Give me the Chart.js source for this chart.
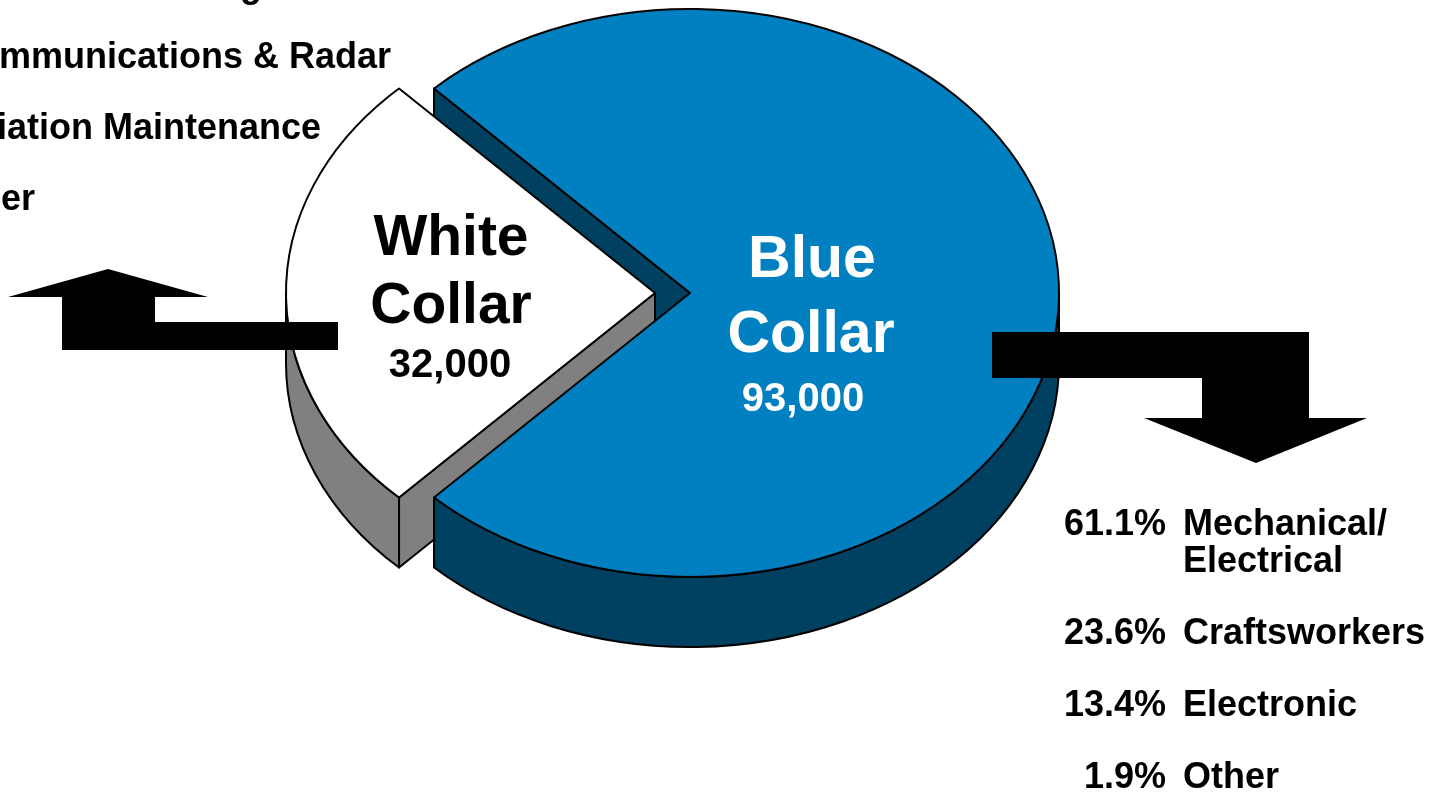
<!DOCTYPE html>
<html>
<head>
<meta charset="utf-8">
<style>
  html, body { margin: 0; padding: 0; background: #ffffff; }
  canvas { display: block; }
</style>
<script src="https://cdn.jsdelivr.net/npm/chart.js@4.4.1/dist/chart.umd.min.js"></script>
</head>
<body>
<canvas id="workforce" width="1441" height="792"></canvas>
<script>
// workforce split
const categories = ['White Collar', 'Blue Collar'];
const workers = [32000, 93000];

// breakdown lists on each side
const whiteGroups = ['Contracting', 'Communications & Radar', 'Aviation Maintenance', 'Other'];
const blueShares = [61.1, 23.6, 13.4, 1.9];
const blueGroups = ['Mechanical/\nElectrical', 'Craftsworkers', 'Electronic', 'Other'];

const TILT = 284 / 369;   // squash of the pie top
const DEPTH = 70;         // thickness of the pie
const sideColors = ['#808080', '#004060'];
const FONT = '"Liberation Sans", Arial, Helvetica, sans-serif';

// rotate so the white slice sits centred on the left
const whiteShare = workers[0] / workers.reduce((a, b) => a + b, 0);
const rotation = 270 - 180 * whiteShare;

function slicePath(ctx, s) {
    ctx.beginPath();
    ctx.moveTo(s.cx, s.cy);
    ctx.ellipse(s.cx, s.cy, s.rx, s.ry, 0, s.start, s.end, false);
    ctx.closePath();
}

function edgeFace(ctx, s, a) {
    const px = s.cx + s.rx * Math.cos(a), py = s.cy + s.ry * Math.sin(a);
    ctx.beginPath();
    ctx.moveTo(s.cx, s.cy);
    ctx.lineTo(px, py);
    ctx.lineTo(px, py + DEPTH);
    ctx.lineTo(s.cx, s.cy + DEPTH);
    ctx.closePath();
    ctx.fillStyle = s.side;
    ctx.fill();
    ctx.stroke();
}

function rimFaces(ctx, s) {
    // only the front half (sin > 0) of the rim can be seen
    for (let n = -1; n <= 2; n++) {
        const lo = Math.max(s.start, n * 2 * Math.PI);
        const hi = Math.min(s.end, n * 2 * Math.PI + Math.PI);
        if (hi <= lo) continue;
        ctx.beginPath();
        ctx.ellipse(s.cx, s.cy, s.rx, s.ry, 0, lo, hi, false);
        ctx.lineTo(s.cx + s.rx * Math.cos(hi), s.cy + s.ry * Math.sin(hi) + DEPTH);
        ctx.ellipse(s.cx, s.cy + DEPTH, s.rx, s.ry, 0, hi, lo, true);
        ctx.closePath();
        ctx.fillStyle = s.side;
        ctx.fill();
        ctx.stroke();
    }
}

const pie3d = {
    id: 'pie3d',
    beforeDatasetsDraw(chart) {
        const ctx = chart.ctx;
        const arcs = chart.getDatasetMeta(0).data;
        const slices = arcs.map((arc, i) => {
            const p = arc.getProps(['x', 'y', 'startAngle', 'endAngle', 'outerRadius'], true);
            const mid = (p.startAngle + p.endAngle) / 2;
            const off = arc.options.offset || 0;
            return {
                cx: p.x + Math.cos(mid) * off,
                cy: p.y + Math.sin(mid) * off * TILT,
                rx: p.outerRadius,
                ry: p.outerRadius * TILT,
                start: p.startAngle,
                end: p.endAngle,
                top: arc.options.backgroundColor,
                side: sideColors[i]
            };
        });

        ctx.save();
        ctx.lineWidth = 2;
        ctx.lineJoin = 'round';
        ctx.strokeStyle = '#000000';

        // cut faces that look toward the viewer, back ones first
        const faces = [];
        slices.forEach(s => {
            if (Math.cos(s.start) < 0) faces.push({ s, a: s.start });
            if (Math.cos(s.end) > 0) faces.push({ s, a: s.end });
        });
        faces.sort((f, g) => (f.s.cy + f.s.ry * Math.sin(f.a)) - (g.s.cy + g.s.ry * Math.sin(g.a)));
        faces.forEach(f => edgeFace(ctx, f.s, f.a));

        slices.forEach(s => rimFaces(ctx, s));

        slices.forEach(s => {
            slicePath(ctx, s);
            ctx.fillStyle = s.top;
            ctx.fill();
            ctx.stroke();
        });
        ctx.restore();
        return false;
    },
    afterDraw(chart) {
        const ctx = chart.ctx;
        ctx.save();
        ctx.fillStyle = '#000000';

        // arrows
        ctx.beginPath();
        ctx.moveTo(8, 297); ctx.lineTo(108, 269); ctx.lineTo(208, 297);
        ctx.lineTo(155, 297); ctx.lineTo(155, 322); ctx.lineTo(338, 322);
        ctx.lineTo(338, 350); ctx.lineTo(62, 350); ctx.lineTo(62, 297);
        ctx.closePath();
        ctx.fill();

        ctx.beginPath();
        ctx.moveTo(992, 332); ctx.lineTo(1309, 332); ctx.lineTo(1309, 418);
        ctx.lineTo(1367, 418); ctx.lineTo(1256, 463); ctx.lineTo(1144, 418);
        ctx.lineTo(1202, 418); ctx.lineTo(1202, 378); ctx.lineTo(992, 378);
        ctx.closePath();
        ctx.fill();

        // slice labels
        ctx.textAlign = 'center';
        ctx.textBaseline = 'alphabetic';
        const w = categories[0].split(' ');
        ctx.font = 'bold 57px ' + FONT;
        ctx.fillText(w[0], 451, 255);
        ctx.fillText(w[1], 451, 323);
        ctx.font = 'bold 40px ' + FONT;
        ctx.fillText(workers[0].toLocaleString('en-US'), 450, 377);

        ctx.fillStyle = '#ffffff';
        const b = categories[1].split(' ');
        ctx.font = 'bold 59px ' + FONT;
        ctx.fillText(b[0], 812, 277);
        ctx.fillText(b[1], 811, 352);
        ctx.font = 'bold 40px ' + FONT;
        ctx.fillText(workers[1].toLocaleString('en-US'), 803, 411);

        // white collar list (runs off the left edge)
        ctx.fillStyle = '#000000';
        ctx.font = 'bold 36px ' + FONT;
        ctx.textAlign = 'right';
        const leftEnds = [262, 391, 321, 35];
        whiteGroups.forEach((g, i) => ctx.fillText(g, leftEnds[i], -3 + i * 71));

        // blue collar list
        let y = 535;
        blueShares.forEach((v, i) => {
            ctx.textAlign = 'right';
            ctx.fillText(v.toFixed(1) + '%', 1166, y);
            ctx.textAlign = 'left';
            const lines = blueGroups[i].split('\n');
            lines.forEach((t, j) => ctx.fillText(t, 1183, y + j * 37));
            y += (lines.length - 1) * 37 + 72;
        });
        ctx.restore();
    }
};

new Chart(document.getElementById('workforce'), {
    type: 'pie',
    data: {
        labels: categories,
        datasets: [{
            data: workers,
            backgroundColor: ['#ffffff', '#0080c0'],
            borderColor: '#000000',
            borderWidth: 2,
            offset: [35, 0]
        }]
    },
    options: {
        responsive: false,
        animation: false,
        devicePixelRatio: 1,
        radius: 369,
        rotation: rotation,
        layout: { padding: { left: 0, right: 61, top: 0, bottom: 206 } },
        plugins: {
            legend: { display: false },
            tooltip: { enabled: false }
        }
    },
    plugins: [pie3d]
});
</script>
</body>
</html>
